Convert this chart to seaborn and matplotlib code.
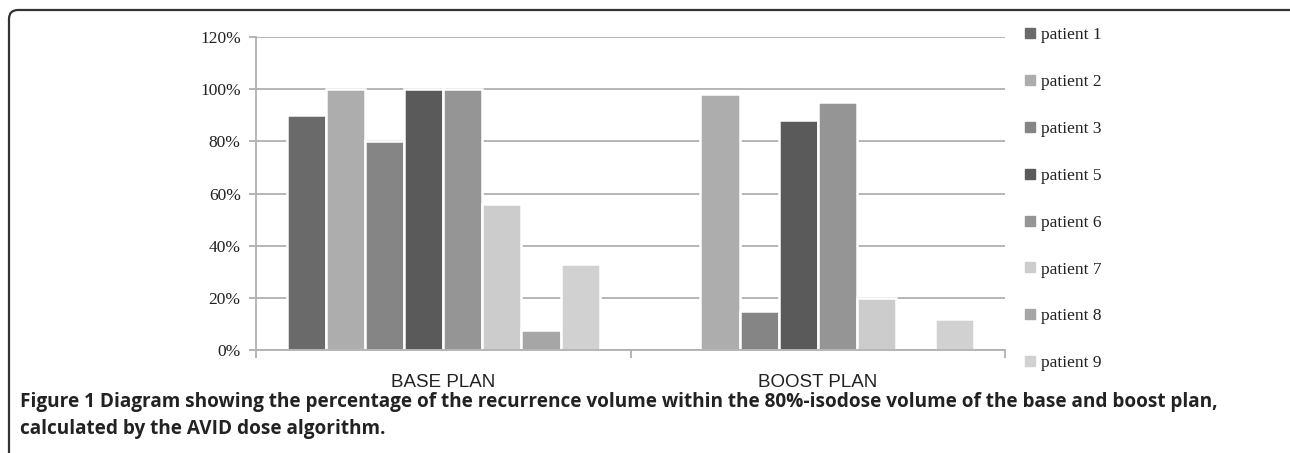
import numpy as np
import pandas as pd
import matplotlib
matplotlib.use("Agg")
import matplotlib.pyplot as plt
import seaborn as sns
from matplotlib.patches import FancyBboxPatch
from matplotlib.lines import Line2D
from matplotlib.transforms import IdentityTransform

# --- data (percent of recurrence volume) ---
plans = ["BASE PLAN", "BOOST PLAN"]
patients = ["patient 1", "patient 2", "patient 3", "patient 5",
            "patient 6", "patient 7", "patient 8", "patient 9"]
base_plan = [90, 100, 80, 100, 100, 56, 7.5, 33]
boost_plan = [np.nan, 98, 15, 88, 95, 20, np.nan, 12]
colors = ["#6a6a6a", "#adadad", "#858585", "#5a5a5a",
          "#959595", "#cccccc", "#a6a6a6", "#d1d1d1"]
y_ticks = [0, 20, 40, 60, 80, 100, 120]
caption_lines = [
    "Figure 1 Diagram showing the percentage of the recurrence volume within the 80%-isodose volume of the base and boost plan,",
    "calculated by the AVID dose algorithm.",
]

df = pd.DataFrame({
    "plan": [plans[0]] * len(patients) + [plans[1]] * len(patients),
    "patient": patients * 2,
    "value": base_plan + boost_plan,
})

sns.set_theme(style="white")
W, H = 1290, 453
fig = plt.figure(figsize=(W / 100, H / 100), dpi=100)
ax = fig.add_axes([256 / W, 1 - 350 / H, (1005 - 256) / W, (350 - 37) / H])

sns.barplot(data=df, x="plan", y="value", hue="patient", order=plans,
            hue_order=patients, palette=colors, width=0.835,
            edgecolor="white", linewidth=1.8, saturation=1, ax=ax,
            legend=False, errorbar=None)

grid_c = "#b0b0b0"
ax.set_xlim(-0.5, 1.5)
ax.set_ylim(0, 120)
ax.set_yticks(y_ticks)
ax.set_yticklabels([f"{v}%" for v in y_ticks], family="Liberation Serif",
                   fontsize=12.5, color="#222222")
ax.yaxis.grid(True, color=grid_c, linewidth=1.3)
ax.set_axisbelow(True)
ax.set_xlabel("")
ax.set_ylabel("")
for lab in ax.get_xticklabels():
    lab.set_family("Liberation Sans")
    lab.set_fontsize(13.5)
    lab.set_color("#222222")
ax.set_xticks([-0.5, 0.5, 1.5], minor=True)
ax.tick_params(axis="x", which="major", length=0, pad=17)
ax.tick_params(axis="x", which="minor", length=6, width=1.3, color=grid_c,
               direction="out", bottom=True)
ax.tick_params(axis="y", which="major", length=5, width=1.3, color=grid_c,
               direction="out", left=True, pad=6)
for side in ["top", "right"]:
    ax.spines[side].set_visible(False)
for side in ["left", "bottom"]:
    ax.spines[side].set_color(grid_c)
    ax.spines[side].set_linewidth(1.3)
    ax.spines[side].set_zorder(5)

# legend on the right
handles = [Line2D([], [], marker="s", linestyle="", color=c, markersize=7)
           for c in colors]
fig.legend(handles, patients, loc="upper left",
           bbox_to_anchor=(1025 / W, 1 - 27 / H), frameon=False,
           prop={"family": "Liberation Serif", "size": 12.5},
           labelcolor="#222222", handlelength=0.6, handletextpad=0.3,
           labelspacing=1.77, borderpad=0, borderaxespad=0)

# caption, scaled so the first line spans the same width as the original
caps = [fig.text(20 / W, 1 - (402 + 27 * i) / H, line, family="Open Sans",
                 fontweight="bold", fontsize=12, color="#222222", va="center")
        for i, line in enumerate(caption_lines)]
fig.canvas.draw()
w0 = caps[0].get_window_extent(fig.canvas.get_renderer()).width
for t in caps:
    t.set_fontsize(t.get_fontsize() * (1222 - 20) / w0)

# rounded frame (top-left corner only visible)
frame = FancyBboxPatch((9, -40), W + 40, H + 40 - 10,
                       boxstyle="round,pad=0,rounding_size=9",
                       transform=IdentityTransform(), fill=False,
                       edgecolor="#333333", linewidth=1.6)
fig.patches.append(frame)

fig.savefig("out.png", dpi=100)
